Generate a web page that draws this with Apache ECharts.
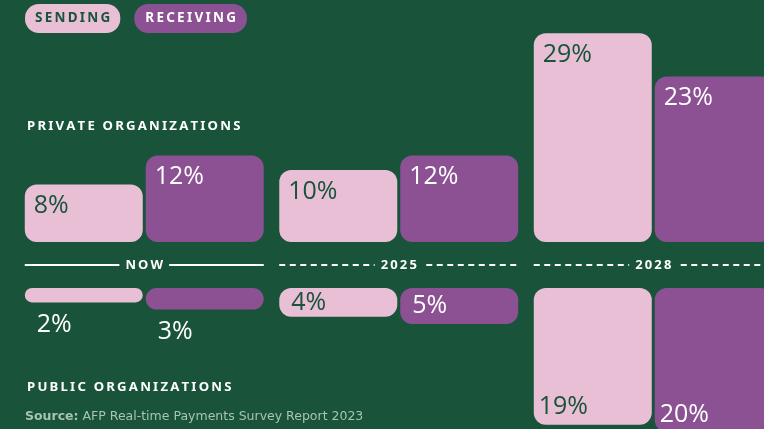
<!DOCTYPE html>
<html>
<head>
<meta charset="utf-8">
<script src="https://cdn.jsdelivr.net/npm/echarts@6/dist/echarts.min.js"></script>
<style>
  html, body { margin: 0; padding: 0; background: #18533a; }
  #chart { width: 764px; height: 429px; }
</style>
</head>
<body>
<div id="chart"></div>
<script>
// data
const periods = ['NOW', '2025', '2028']
const sendingPrivate = [8, 10, 29]
const receivingPrivate = [12, 12, 23]
const sendingPublic = [2, 4, 19]
const receivingPublic = [3, 5, 20]

const BG = '#18533a'
const PINK = '#e9bfd6'
const PURPLE = '#8c5193'
const WHITE = '#ffffff'
const LABEL_FONT = 'Open Sans'
const CAPS_FONT = 'Noto Sans'

// fake letter spacing for the caps labels
function spaced(s) {
  return s.split('').join('\u2009')
}

const chart = echarts.init(document.getElementById('chart'))

function topBar(name, data, color, textColor) {
  return {
    name: name,
    type: 'bar',
    xAxisIndex: 0,
    yAxisIndex: 0,
    data: data,
    barWidth: 118,
    barGap: '2.5%',
    itemStyle: { color: color, borderRadius: 12 },
    label: {
      show: true,
      position: 'insideTopLeft',
      distance: 9,
      formatter: '{c}%',
      color: textColor,
      fontFamily: LABEL_FONT,
      fontSize: 25
    }
  }
}

function bottomBar(name, data, color, textColor) {
  return {
    name: name,
    type: 'bar',
    xAxisIndex: 2,
    yAxisIndex: 2,
    barWidth: 118,
    barGap: '2.5%',
    itemStyle: { color: color, borderRadius: 12 },
    data: data.map(v => {
      let label
      if (v <= 3) {
        // too thin: put it under the bar
        label = { position: [12, '100%'], align: 'left', verticalAlign: 'top', offset: [0, 10], color: WHITE }
      } else if (v <= 6) {
        label = { position: 'insideLeft', distance: 12, color: textColor }
      } else {
        label = { position: 'insideBottomLeft', distance: 5, color: textColor }
      }
      return { value: v, label: label }
    }),
    label: {
      show: true,
      formatter: '{c}%',
      fontFamily: LABEL_FONT,
      fontSize: 25
    }
  }
}

const gridBase = { left: 17, width: 763.5, outerBoundsMode: 'none', containLabel: false }

chart.setOption({
  backgroundColor: BG,
  animation: false,
  title: [{
    text: spaced('PRIVATE ORGANIZATIONS'),
    left: 22,
    top: 115,
    textStyle: { color: WHITE, fontFamily: CAPS_FONT, fontWeight: 'bold', fontSize: 13.2 }
  }, {
    text: spaced('PUBLIC ORGANIZATIONS'),
    left: 22,
    top: 376,
    textStyle: { color: WHITE, fontFamily: CAPS_FONT, fontWeight: 'bold', fontSize: 13.2 }
  }, {
    text: '{b|Source:} AFP Real-time Payments Survey Report 2023',
    left: 20,
    top: 405,
    textStyle: {
      color: '#a9c3b4',
      fontFamily: 'DejaVu Sans',
      fontWeight: 'normal',
      fontSize: 12.5,
      rich: {
        b: { fontWeight: 'bold', color: '#a9c3b4', fontFamily: 'DejaVu Sans', fontSize: 12.5 }
      }
    }
  }],
  legend: {
    left: 20,
    top: 4,
    padding: 0,
    icon: 'none',
    itemWidth: 0,
    itemHeight: 0,
    itemGap: 9,
    selectedMode: false,
    formatter: n => spaced(n.toUpperCase()),
    data: [{
      name: 'Sending',
      textStyle: {
        color: BG, backgroundColor: PINK, borderRadius: 14, padding: [7, 10, 8, 10],
        fontFamily: CAPS_FONT, fontWeight: 'bold', fontSize: 13.5
      }
    }, {
      name: 'Receiving',
      textStyle: {
        color: WHITE, backgroundColor: PURPLE, borderRadius: 14, padding: [7, 11, 8, 11],
        fontFamily: CAPS_FONT, fontWeight: 'bold', fontSize: 13.5
      }
    }]
  },
  grid: [
    Object.assign({ top: 26, height: 216 }, gridBase),
    Object.assign({ top: 242, height: 46 }, gridBase),
    Object.assign({ top: 288, height: 144 }, gridBase)
  ],
  xAxis: [0, 1, 2].map(i => ({
    type: 'category',
    gridIndex: i,
    data: periods,
    show: false
  })),
  yAxis: [
    { type: 'value', gridIndex: 0, min: 0, max: 30, show: false },
    { type: 'value', gridIndex: 1, min: 0, max: 1, show: false },
    { type: 'value', gridIndex: 2, min: 0, max: 20, inverse: true, show: false }
  ],
  series: [
    topBar('Sending', sendingPrivate, PINK, BG),
    topBar('Receiving', receivingPrivate, PURPLE, WHITE),
    bottomBar('Sending', sendingPublic, PINK, BG),
    bottomBar('Receiving', receivingPublic, PURPLE, WHITE),
    {
      // the time divider with its label
      type: 'custom',
      xAxisIndex: 1,
      yAxisIndex: 1,
      silent: true,
      data: periods.map((p, i) => [i, 0.5]),
      renderItem: function (params, api) {
        const i = api.value(0)
        const c = api.coord([i, api.value(1)])
        const half = 119.5
        return {
          type: 'group',
          children: [{
            type: 'line',
            shape: { x1: c[0] - half, y1: c[1], x2: c[0] + half, y2: c[1] },
            style: {
              stroke: WHITE,
              lineWidth: 2,
              lineDash: i === 0 ? null : [6, 4.5]
            }
          }, {
            type: 'text',
            x: c[0],
            y: c[1],
            style: {
              text: spaced(periods[i]),
              align: 'center',
              verticalAlign: 'middle',
              fill: WHITE,
              font: 'bold 13px "Noto Sans"',
              backgroundColor: BG,
              padding: [2, 6]
            }
          }]
        }
      }
    }
  ]
})
</script>
</body>
</html>
